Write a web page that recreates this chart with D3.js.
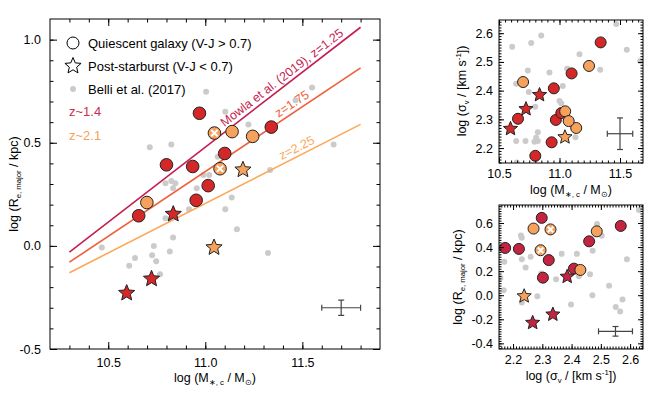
<!DOCTYPE html>
<html>
<head>
<meta charset="utf-8">
<script src="https://cdn.jsdelivr.net/npm/d3@7"></script>
<style>
  body { margin: 0; background: #fff; }
  text { font-family: "Liberation Sans", Arial, sans-serif; }
</style>
</head>
<body>
<svg id="chart" width="664" height="399"></svg>
<script>
// our galaxies: stellar mass, size, velocity dispersion
const galMass  = [10.97, 11.34, 11.10, 10.80, 10.935, 11.015, 10.953, 10.657, 11.138, 11.244, 10.699, 11.047, 11.076, 10.595, 10.723, 10.835, 11.045, 11.194];
const galSize  = [0.643, 0.576, 0.448, 0.393, 0.385, 0.292, 0.221, 0.146, 0.554, 0.531, 0.21, 0.547, 0.374, -0.229, -0.16, 0.154, -0.008, 0.369];
const galSigma = [2.298, 2.568, 2.46, 2.173, 2.22, 2.322, 2.408, 2.302, 2.27, 2.486, 2.43, 2.328, 2.294, 2.267, 2.336, 2.385, 2.238, null];
const galKind  = ["q","q","q","q","q","q","q","q","q","q","q","qx","qx","psb","psb","psb","psb","psb"];
const galZ     = ["1.4","1.4","1.4","1.4","1.4","1.4","1.4","1.4","2.1","2.1","2.1","2.1","2.1","1.4","1.4","1.4","2.1","2.1"];

// Belli et al. (2017)
const belliMass = [11.004, 11.55, 11.465, 11.103, 11.222, 11.661, 10.714, 10.825, 11.064, 10.99, 11.02, 10.825, 10.795, 10.846, 10.834, 10.956, 11.334, 11.136, 11.103, 10.916, 10.795, 11.163, 10.834, 10.735, 10.467, 10.817, 11.323, 10.638, 10.726, 10.747, 10.608, 10.767];
const belliSize = [0.747, 0.768, 0.706, 0.65, 0.589, 0.492, 0.478, 0.492, 0.432, 0.344, 0.344, 0.315, 0.304, 0.304, 0.28, 0.28, 0.368, 0.234, 0.178, 0.178, 0.134, 0.081, 0.041, 0.0, -0.008, -0.027, -0.035, -0.059, -0.046, -0.075, -0.096, -0.137];
const belliMassS  = [11.469, 10.849, 10.609, 10.766, 11.556, 11.165, 11.667, 10.738, 11.063, 10.917, 11.336, 10.642, 11.027, 10.746, 10.799, 11.0, 11.014, 10.821, 10.807, 10.642, 10.719, 10.821, 10.793, 11.132, 10.647];
const belliSigmaM = [2.632, 2.592, 2.553, 2.566, 2.542, 2.527, 2.503, 2.47, 2.476, 2.463, 2.473, 2.424, 2.416, 2.395, 2.344, 2.364, 2.356, 2.255, 2.236, 2.225, 2.225, 2.225, 2.222, 2.238, 2.15];
const belliSigmaR = [2.366, 2.63, 2.487, 2.503, 2.227, 2.23, 2.17, 2.23, 2.26, 2.366, 2.418, 2.472, 2.589, 2.243, 2.296, 2.347, 2.425, 2.463, 2.157, 2.168, 2.23, 2.283, 2.398, 2.471, 2.528, 2.574, 2.551, 2.566];
const belliSizeS  = [0.75, 0.708, 0.592, 0.494, 0.497, 0.478, 0.278, 0.3, 0.319, 0.344, 0.344, 0.369, 0.3, 0.231, 0.181, 0.133, 0.158, 0.175, 0.144, 0.042, -0.061, -0.008, -0.078, 0.0, 0.078, -0.036, -0.097, -0.136];

// Mowla et al. (2019) relations, endpoints at log M = 10.3 and 11.8
const mowlaLabel = ["Mowla et al. (2019), z=1.25", "z=1.75", "z=2.25"];
const mowlaMass  = [10.3, 11.8];
const mowlaStart = [-0.03, -0.079, -0.13];
const mowlaEnd   = [1.06, 0.863, 0.589];
const mowlaLabelAt = [11.42, 11.47, 11.49];

// typical errors [x, y, dx, dy]
const errMain = [11.7, -0.30, 0.1, 0.037];
const errTR   = [11.5, 2.25, 0.105, 0.055];
const errBR   = [2.55, -0.30, 0.058, 0.04];

const mowlaColor = ["#c41e50", "#ef5f3c", "#fca75a"];
const redFill = "#d42828", redFill2 = "#c4243f", orangeFill = "#f6a25c", grayDot = "#cbcbcb";

const svg = d3.select("#chart");
const fmt = d => d.toFixed(1);

function starPath(r) {
  let pts = d3.range(10).map(i => {
    let a = -Math.PI / 2 + i * Math.PI / 5;
    let rr = i % 2 ? r * 0.45 : r;
    return [rr * Math.cos(a), rr * Math.sin(a)];
  });
  return d3.line()(pts) + "Z";
}

function drawFrame(g, x, y, o) {
  let [x0, x1] = x.range(), [y0, y1] = y.range();
  let axes = [
    [d3.axisBottom(x), `translate(0,${y0})`, o.xMajor, o.xMinor, true],
    [d3.axisTop(x), `translate(0,${y1})`, o.xMajor, o.xMinor, false],
    [d3.axisLeft(y), `translate(${x0},0)`, o.yMajor, o.yMinor, true],
    [d3.axisRight(y), `translate(${x1},0)`, o.yMajor, o.yMinor, false]
  ];
  axes.forEach(([ax, tr, major, minor, lab]) => {
    g.append("g").attr("transform", tr)
      .call(ax.tickValues(minor).tickSize(-o.minorLen).tickFormat(""))
      .call(s => s.select(".domain").remove());
    let a = g.append("g").attr("transform", tr)
      .call(ax.tickValues(major).tickSize(-o.majorLen).tickPadding(o.pad).tickFormat(lab ? fmt : ""))
      .attr("font-size", o.fs).attr("font-family", null);
    a.select(".domain").remove();
  });
  g.append("rect").attr("x", x0).attr("y", y1).attr("width", x1 - x0).attr("height", y0 - y1)
    .attr("fill", "none").attr("stroke", "#000").attr("stroke-width", 1);
}

function label(g, x, y, rot, parts, fs) {
  let t = g.append("text").attr("transform", `translate(${x},${y}) rotate(${rot})`)
    .attr("text-anchor", "middle").attr("font-size", fs);
  parts.forEach(p => {
    let s = t.append("tspan").text(p[0]);
    if (p[1] === "sub") s.attr("font-size", fs * 0.62).attr("dy", 3);
    if (p[1] === "sup") s.attr("font-size", fs * 0.62).attr("dy", -5);
    if (p[2]) s.attr("dy", p[2]);
  });
}

function errorBar(g, x, y, e, cap) {
  let c = g.append("g").attr("stroke", "#444").attr("stroke-width", 1.2);
  c.append("line").attr("x1", x(e[0] - e[2])).attr("x2", x(e[0] + e[2])).attr("y1", y(e[1])).attr("y2", y(e[1]));
  c.append("line").attr("x1", x(e[0])).attr("x2", x(e[0])).attr("y1", y(e[1] - e[3])).attr("y2", y(e[1] + e[3]));
  [e[0] - e[2], e[0] + e[2]].forEach(v => c.append("line").attr("x1", x(v)).attr("x2", x(v))
    .attr("y1", y(e[1]) - cap).attr("y2", y(e[1]) + cap));
  [e[1] - e[3], e[1] + e[3]].forEach(v => c.append("line").attr("y1", y(v)).attr("y2", y(v))
    .attr("x1", x(e[0]) - cap).attr("x2", x(e[0]) + cap));
}

function drawMarkers(g, idx, xv, yv, x, y, r, red, showX) {
  idx.forEach(i => {
    let fill = galZ[i] === "1.4" ? red : orangeFill;
    let m = g.append("g").attr("transform", `translate(${x(xv[i])},${y(yv[i])})`);
    if (galKind[i] === "psb") {
      m.append("path").attr("d", starPath(r * 1.35)).attr("fill", fill).attr("stroke", "#222").attr("stroke-width", 1);
    } else {
      m.append("circle").attr("r", r).attr("fill", fill).attr("stroke", "#222").attr("stroke-width", 1);
      if (galKind[i] === "qx" && showX) {
        let k = r * 0.5;
        m.append("path").attr("d", `M${-k},${-k}L${k},${k}M${-k},${k}L${k},${-k}`)
          .attr("stroke", "#fff").attr("stroke-width", 2);
      }
    }
  });
}

function clipFor(id, x, y) {
  svg.append("clipPath").attr("id", id).append("rect")
    .attr("x", x.range()[0]).attr("y", y.range()[1])
    .attr("width", x.range()[1] - x.range()[0]).attr("height", y.range()[0] - y.range()[1]);
}

const allIdx = d3.range(galMass.length);

// ---------- main panel ----------
let xM = d3.scaleLinear().domain([10.2, 11.9]).range([50, 380]);
let yM = d3.scaleLinear().domain([-0.5, 1.1]).range([349, 19]);
clipFor("clipM", xM, yM);
let gM = svg.append("g");
let pM = gM.append("g").attr("clip-path", "url(#clipM)");
pM.selectAll("circle.b").data(belliMass).enter().append("circle")
  .attr("cx", d => xM(d)).attr("cy", (d, i) => yM(belliSize[i])).attr("r", 3).attr("fill", grayDot);
mowlaLabel.forEach((lab, i) => {
  pM.append("line").attr("x1", xM(mowlaMass[0])).attr("x2", xM(mowlaMass[1]))
    .attr("y1", yM(mowlaStart[i])).attr("y2", yM(mowlaEnd[i]))
    .attr("stroke", mowlaColor[i]).attr("stroke-width", 1.6);
  let ang = Math.atan2(yM(mowlaEnd[i]) - yM(mowlaStart[i]), xM(mowlaMass[1]) - xM(mowlaMass[0])) * 180 / Math.PI;
  let f = (mowlaLabelAt[i] - mowlaMass[0]) / (mowlaMass[1] - mowlaMass[0]);
  let vy = mowlaStart[i] + f * (mowlaEnd[i] - mowlaStart[i]);
  gM.append("text").attr("transform", `translate(${xM(mowlaLabelAt[i])},${yM(vy)}) rotate(${ang})`)
    .attr("text-anchor", "middle").attr("dy", -4).attr("font-size", 12.5)
    .attr("fill", mowlaColor[i]).text(lab);
});
errorBar(gM, xM, yM, errMain, 3);
drawMarkers(gM, allIdx, galMass, galSize, xM, yM, 6.3, redFill, true);
drawFrame(gM, xM, yM, {
  xMajor: [10.5, 11.0, 11.5], xMinor: d3.range(10.3, 11.85, 0.1),
  yMajor: [-0.5, 0.0, 0.5, 1.0], yMinor: d3.range(-0.4, 1.05, 0.1),
  majorLen: 7, minorLen: 3.5, pad: 9, fs: 12.5
});
label(gM, 215, 382, 0, [["log (M"], ["∗, c", "sub"], [" / M", null, -3], ["⊙", "sub"], [")", null, -3]], 12.5);
label(gM, 18, 184, -90, [["log (R"], ["e, major", "sub"], [" / kpc)", null, -3]], 12.5);

// legend
let lg = gM.append("g");
lg.append("circle").attr("cx", 73).attr("cy", 43).attr("r", 6).attr("fill", "none").attr("stroke", "#000");
lg.append("path").attr("transform", "translate(73,66)").attr("d", starPath(8.5)).attr("fill", "none").attr("stroke", "#000");
lg.append("circle").attr("cx", 73).attr("cy", 89).attr("r", 3).attr("fill", grayDot);
[["Quiescent galaxy (V-J > 0.7)", 47.5], ["Post-starburst (V-J < 0.7)", 70.5], ["Belli et al. (2017)", 93.5]]
  .forEach(([t, yy]) => lg.append("text").attr("x", 88).attr("y", yy).attr("font-size", 13).text(t));
lg.append("text").attr("x", 69).attr("y", 116).attr("font-size", 13).attr("fill", "#cc2d50").text("z~1.4");
lg.append("text").attr("x", 69).attr("y", 140).attr("font-size", 13).attr("fill", "#f7a15a").text("z~2.1");

// ---------- top right: sigma vs mass ----------
let xT = d3.scaleLinear().domain([10.5, 11.69]).range([499, 643]);
let yT = d3.scaleLinear().domain([2.148, 2.646]).range([163, 20]);
clipFor("clipT", xT, yT);
let gT = svg.append("g");
let pT = gT.append("g").attr("clip-path", "url(#clipT)");
pT.selectAll("circle").data(belliMassS).enter().append("circle")
  .attr("cx", d => xT(d)).attr("cy", (d, i) => yT(belliSigmaM[i])).attr("r", 3).attr("fill", grayDot);
errorBar(gT, xT, yT, errTR, 3);
drawMarkers(pT, allIdx.filter(i => galSigma[i] !== null), galMass, galSigma, xT, yT, 5.5, redFill, false);
drawFrame(gT, xT, yT, {
  xMajor: [10.5, 11.0, 11.5], xMinor: d3.range(10.55, 11.69, 0.05),
  yMajor: [2.2, 2.3, 2.4, 2.5, 2.6], yMinor: d3.range(2.15, 2.646, 0.01),
  majorLen: 5, minorLen: 2.5, pad: 6, fs: 12.5
});
label(gT, 571, 194, 0, [["log (M"], ["∗, c", "sub"], [" / M", null, -3], ["⊙", "sub"], [")", null, -3]], 12.5);
label(gT, 466, 91, -90, [["log (σ"], ["v", "sub"], [" / [km s", null, -3], ["-1", "sup"], ["])", null, 5]], 12.5);

// ---------- bottom right: size vs sigma ----------
let xB = d3.scaleLinear().domain([2.152, 2.644]).range([499, 643]);
let yB = d3.scaleLinear().domain([-0.447, 0.75]).range([349, 205]);
clipFor("clipB", xB, yB);
let gB = svg.append("g");
let pB = gB.append("g").attr("clip-path", "url(#clipB)");
pB.selectAll("circle").data(belliSigmaR).enter().append("circle")
  .attr("cx", d => xB(d)).attr("cy", (d, i) => yB(belliSizeS[i])).attr("r", 3).attr("fill", grayDot);
errorBar(gB, xB, yB, errBR, 3);
drawMarkers(pB, allIdx.filter(i => galSigma[i] !== null), galSigma, galSize, xB, yB, 5.5, redFill2, true);
drawFrame(gB, xB, yB, {
  xMajor: [2.2, 2.3, 2.4, 2.5, 2.6], xMinor: d3.range(2.16, 2.644, 0.01),
  yMajor: [-0.4, -0.2, 0.0, 0.2, 0.4, 0.6], yMinor: d3.range(-0.44, 0.75, 0.02),
  majorLen: 5, minorLen: 2.5, pad: 6, fs: 12.5
});
label(gB, 571, 380, 0, [["log (σ"], ["v", "sub"], [" / [km s", null, -3], ["-1", "sup"], ["])", null, 5]], 12.5);
label(gB, 462, 277, -90, [["log (R"], ["e, major", "sub"], [" / kpc)", null, -3]], 12.5);
</script>
</body>
</html>
